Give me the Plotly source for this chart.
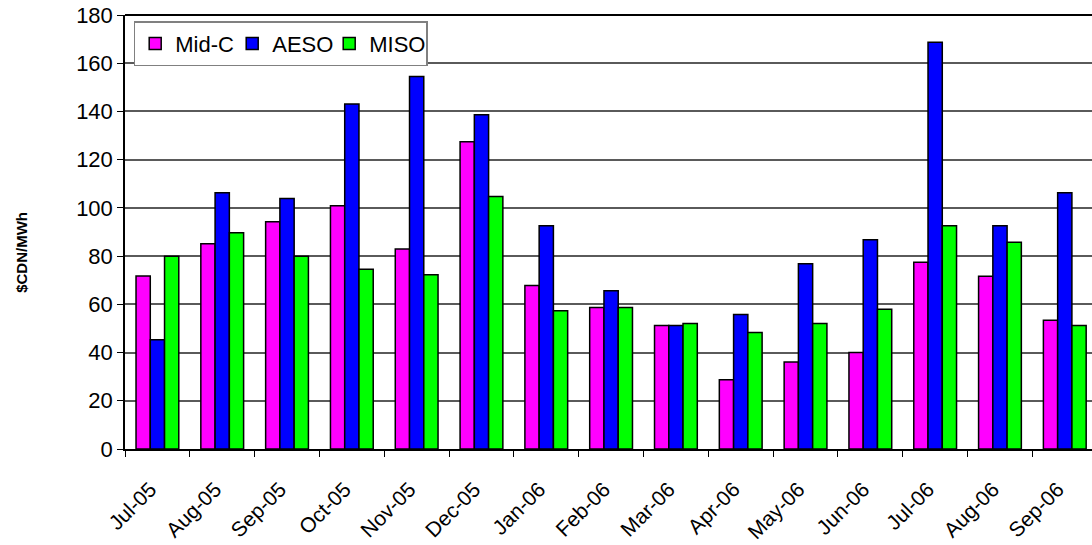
import plotly.graph_objects as go

months = ["Jul-05", "Aug-05", "Sep-05", "Oct-05", "Nov-05", "Dec-05", "Jan-06",
          "Feb-06", "Mar-06", "Apr-06", "May-06", "Jun-06", "Jul-06", "Aug-06", "Sep-06"]

mid_c = [71.7, 85.1, 94.3, 100.9, 82.9, 127.4, 67.8, 58.7, 51.2, 28.7, 36.1, 40.0, 77.5, 71.6, 53.4]
aeso = [45.3, 106.3, 103.9, 143.1, 154.5, 138.6, 92.6, 65.6, 51.2, 55.8, 76.8, 86.8, 168.7, 92.6, 106.3]
miso = [79.9, 89.7, 79.9, 74.6, 72.3, 104.7, 57.3, 58.7, 52.0, 48.3, 52.0, 58.0, 92.6, 85.8, 51.2]

y_ticks = [0, 20, 40, 60, 80, 100, 120, 140, 160, 180]

series = [("Mid-C", mid_c, "#FF00FF"), ("AESO", aeso, "#0000FF"), ("MISO", miso, "#00FF00")]

FONT = "Arial, Liberation Sans, sans-serif"

fig = go.Figure()
for name, vals, color in series:
    fig.add_trace(go.Bar(
        x=months, y=vals, name=name,
        marker=dict(color=color, line=dict(color="black", width=1.5)),
    ))

fig.update_layout(
    width=1092, height=545,
    margin=dict(l=125, r=0, t=15, b=96),
    paper_bgcolor="white", plot_bgcolor="white",
    barmode="group", bargap=0.34, bargroupgap=0,
    font=dict(family=FONT, size=22, color="black"),
    showlegend=True,
    legend=dict(
        orientation="h", x=0.009, y=0.986, xanchor="left", yanchor="top",
        bgcolor="white", bordercolor="#808080", borderwidth=1.5,
        font=dict(family=FONT, size=22, color="black"),
        itemwidth=30, tracegroupgap=0,
        entrywidth=52, entrywidthmode="pixels",
    ),
    xaxis=dict(
        type="category", range=[-0.5, 14.42],
        tickson="boundaries", ticks="outside", ticklen=6, tickcolor="black",
        tickangle=-45, tickfont=dict(family=FONT, size=21),
        ticklabelstandoff=18, ticklabelshift=-7,
        showline=True, linecolor="black", linewidth=1.5,
        showgrid=False, zeroline=False,
    ),
    yaxis=dict(
        range=[0, 180], tickvals=y_ticks,
        ticks="outside", ticklen=6, tickcolor="black",
        tickfont=dict(family=FONT, size=22),
        showline=True, linecolor="black", linewidth=1.5,
        showgrid=True, gridcolor="#5a5a5a", gridwidth=1.5,
        zeroline=False,
    ),
    shapes=[dict(type="line", xref="paper", yref="paper", x0=0, x1=1, y0=1, y1=1,
                 line=dict(color="black", width=2))],
    annotations=[dict(
        text="<b>$CDN/MWh</b>", textangle=-90, showarrow=False,
        xref="paper", yref="paper", x=-0.1065, y=0.452,
        xanchor="center", yanchor="middle",
        font=dict(family=FONT, size=15, color="black"),
    )],
)

fig.write_html("out.html")
